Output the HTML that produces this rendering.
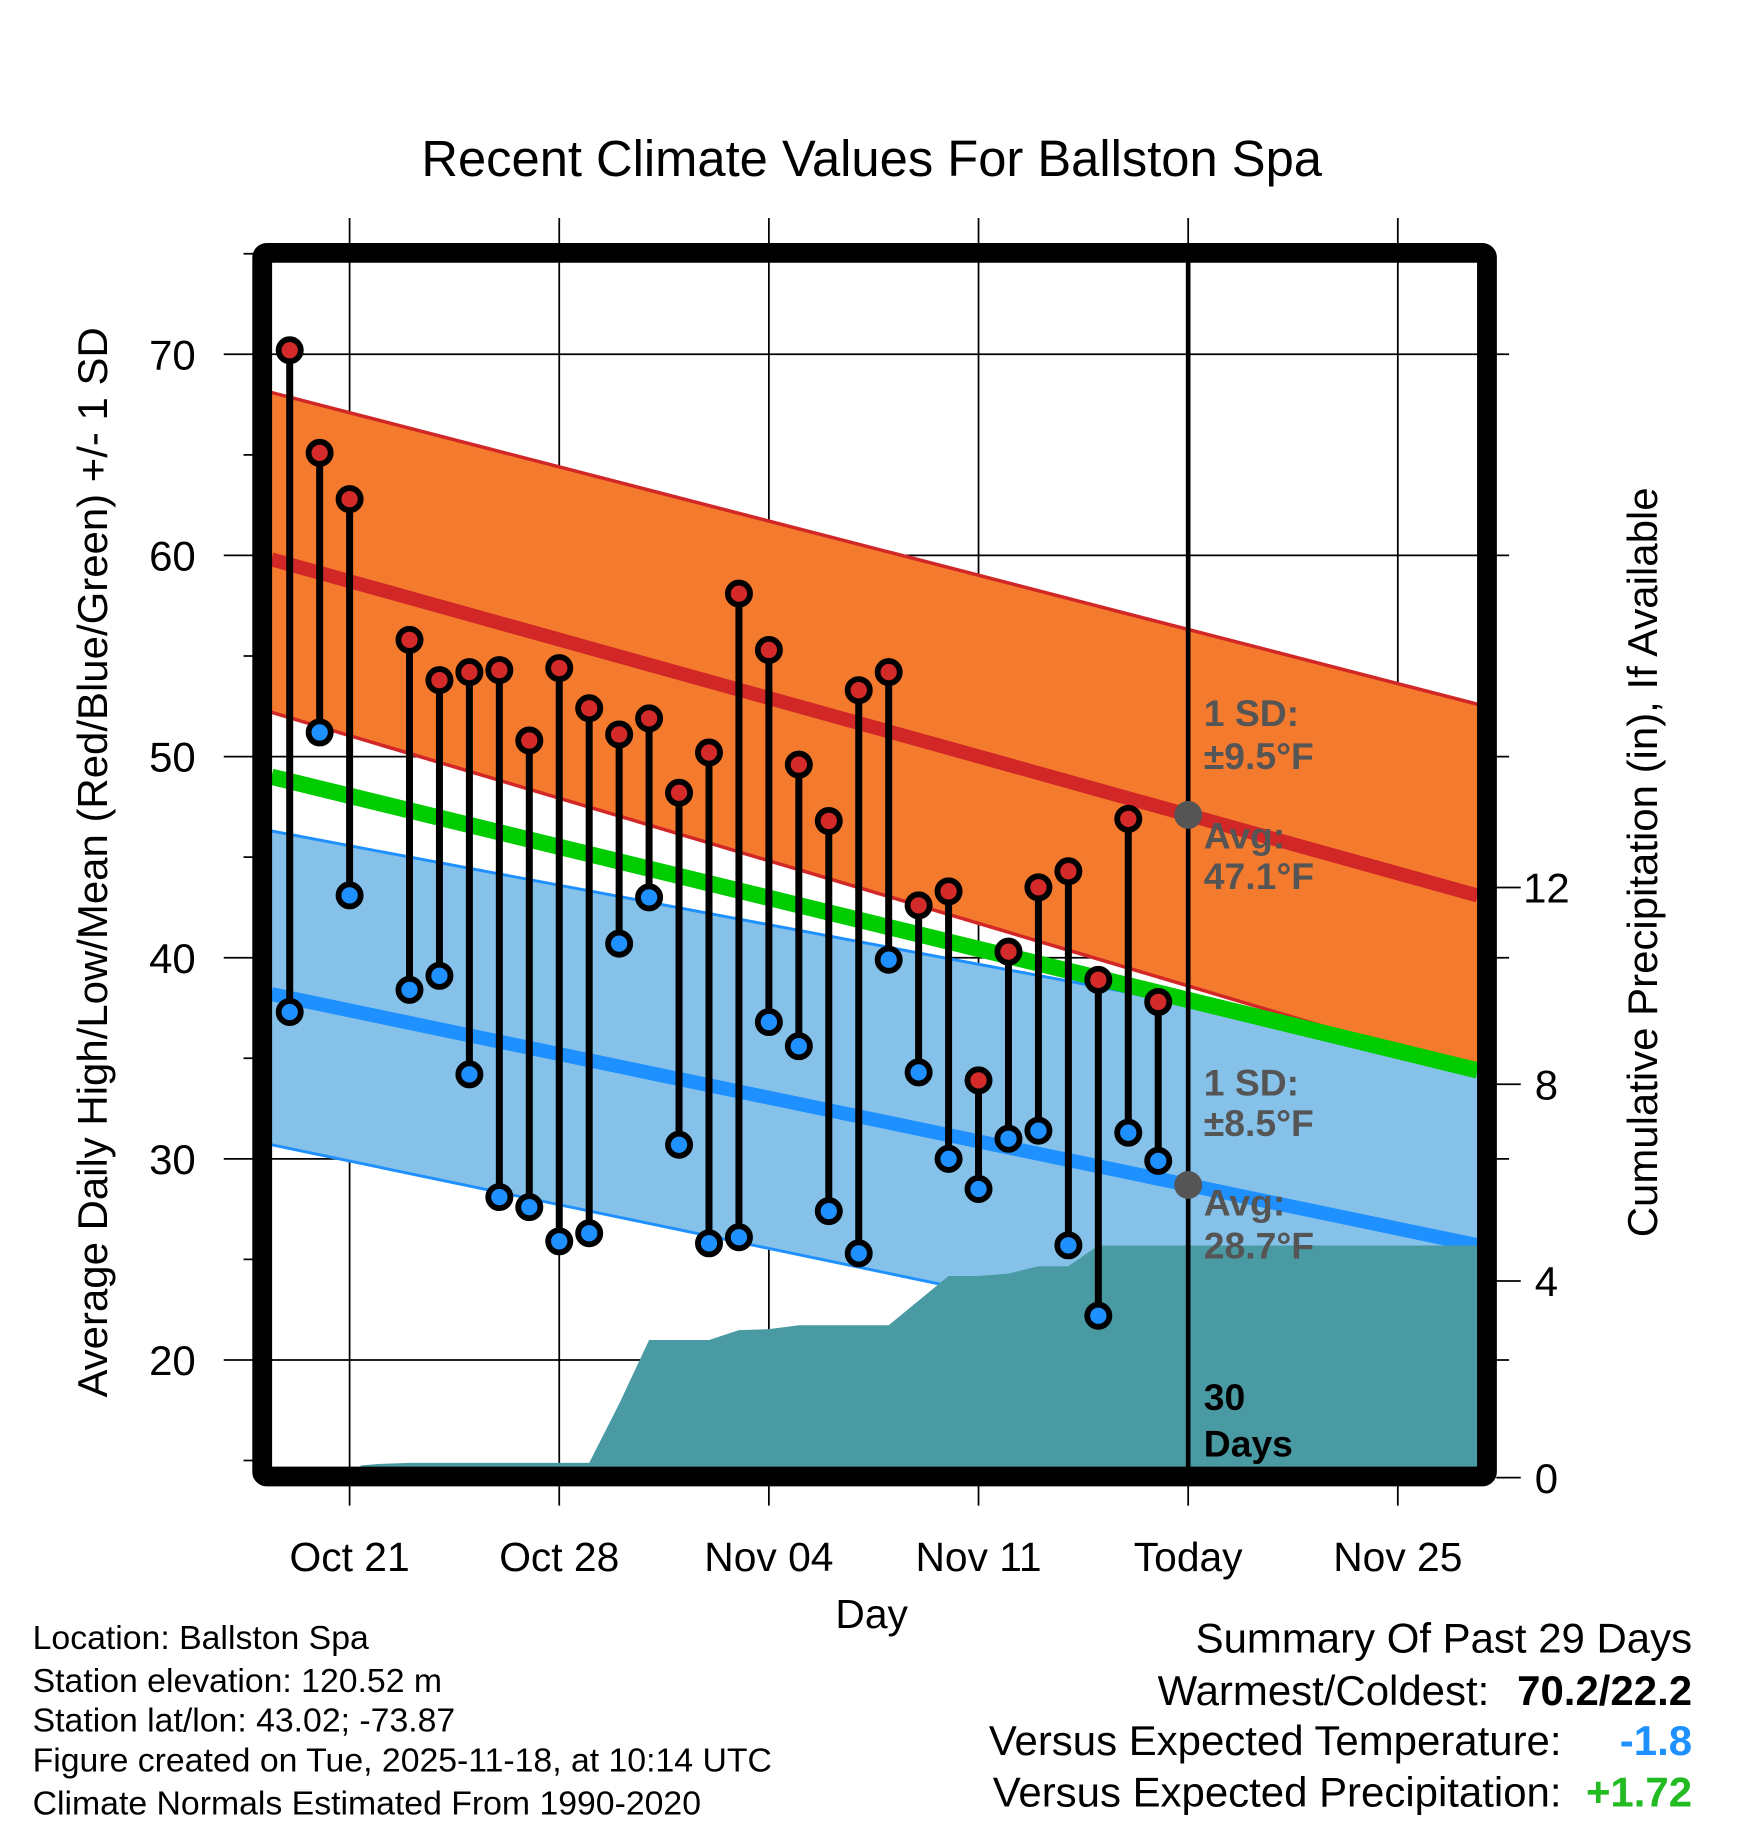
<!DOCTYPE html>
<html><head><meta charset="utf-8"><style>
html,body{margin:0;padding:0;background:#fff}
svg{display:block}
text{font-family:"Liberation Sans",Arial,sans-serif}
</style></head><body>
<svg id="chart" xmlns="http://www.w3.org/2000/svg" width="1748" height="1828" viewBox="0 0 1500 1568.6">
<defs><clipPath id="plotclip"><rect x="233" y="224" width="1035" height="1035"/></clipPath></defs>
<text x="748" y="151" font-size="43.5" text-anchor="middle">Recent Climate Values For Ballston Spa</text>
<g id="grid"></g>
<g id="plot" clip-path="url(#plotclip)"></g>
<g id="marks"></g>
<rect x="225" y="217" width="1051" height="1050" fill="none" stroke="#000" stroke-width="17" rx="4"/>
<g id="axes"></g>
<text transform="translate(92,740) rotate(-90)" font-size="36" text-anchor="middle">Average Daily High/Low/Mean (Red/Blue/Green) +/- 1 SD</text>
<text transform="translate(1422,740) rotate(-90)" font-size="36" text-anchor="middle">Cumulative Precipitation (in), If Available</text>
<text x="748" y="1397" font-size="35" text-anchor="middle">Day</text>
<g font-size="29">
<text x="28" y="1415">Location: Ballston Spa</text>
<text x="28" y="1452">Station elevation: 120.52 m</text>
<text x="28" y="1486">Station lat/lon: 43.02; -73.87</text>
<text x="28" y="1520">Figure created on Tue, 2025-11-18, at 10:14 UTC</text>
<text x="28" y="1557">Climate Normals Estimated From 1990-2020</text>
</g>
<g font-size="36">
<text x="1452" y="1418" text-anchor="end">Summary Of Past 29 Days</text>
<text x="1278" y="1463" text-anchor="end">Warmest/Coldest:</text>
<text x="1452" y="1463" text-anchor="end" font-weight="bold">70.2/22.2</text>
<text x="1340" y="1506" text-anchor="end">Versus Expected Temperature:</text>
<text x="1452" y="1506" text-anchor="end" font-weight="bold" fill="#1e90ff">-1.8</text>
<text x="1340" y="1550" text-anchor="end">Versus Expected Precipitation:</text>
<text x="1452" y="1550" text-anchor="end" font-weight="bold" fill="#22bb22">+1.72</text>
</g>
</svg>
<script>
const days=[-2,-1,0,2,3,4,5,6,7,8,9,10,11,12,13,14,15,16,17,18,19,20,21,22,23,24,25,26,27];
const highs=[70.2,65.1,62.8,55.8,53.8,54.2,54.3,50.8,54.4,52.4,51.1,51.9,48.2,50.2,58.1,55.3,49.6,46.8,53.3,54.2,42.6,43.3,33.9,40.3,43.5,44.3,38.9,46.9,37.8];
const lows=[37.3,51.2,43.1,38.4,39.1,34.2,28.1,27.6,25.9,26.3,40.7,43.0,30.7,25.8,26.1,36.8,35.6,27.4,25.3,39.9,34.3,30.0,28.5,31.0,31.4,25.7,22.2,31.3,29.9];
const precipDays=[-2,-1.4,-1,0,0.4,1,2,8,9,10,12,13,14,15,18,19,20,21,22,23,24,25,27];
const precip=[0,0,0.08,0.1,0.25,0.28,0.3,0.3,1.5,2.8,2.8,3.0,3.02,3.1,3.1,3.6,4.1,4.1,4.15,4.3,4.3,4.72,4.72];
const xTickDays=[0,7,14,21,28,35];
const xTickLabels=["Oct 21","Oct 28","Nov 04","Nov 11","Today","Nov 25"];
const yTicks=[20,30,40,50,60,70];
const y2Ticks=[0,4,8,12];
const todayDay=28, avgHighToday=47.1, avgLowToday=28.7;
const highSlope=0.415, lowSlope=0.31;
const highUpper=[68.1,52.6], highLower=[52.2,34.3];
const lowUpper=[46.3,35.0], lowLower=[30.7,18.2];

const X=d=>300+d*25.7;
const Y=t=>304+(70-t)*17.26;
const Y2=p=>1268-p*42.2;
const D=x=>(x-300)/25.7;
const NS="http://www.w3.org/2000/svg";
function mk(parent,tag,attrs){const e=document.createElementNS(NS,tag);for(const k in attrs)e.setAttribute(k,attrs[k]);parent.appendChild(e);return e;}
const grid=document.getElementById('grid'),plot=document.getElementById('plot'),marks=document.getElementById('marks'),axes=document.getElementById('axes');
const dL=D(233),dR=D(1268);
const hAvg=d=>avgHighToday-highSlope*(d-todayDay);
const lAvg=d=>avgLowToday-lowSlope*(d-todayDay);
function band(up,lo,fill,stroke,sw,name){
  const pts=`${X(dL)},${Y(up[0])} ${X(dR)},${Y(up[1])} ${X(dR)},${Y(lo[1])} ${X(dL)},${Y(lo[0])}`;
  const p=mk(plot,'polygon',{points:pts,fill:fill});
  
  
  [up,lo].forEach(e=>{const l=mk(plot,'line',{x1:X(dL),y1:Y(e[0]),x2:X(dR),y2:Y(e[1]),stroke:stroke,'stroke-width':sw});
    
    });
}
band(lowUpper,lowLower,'#85c1e8','#1e90ff',2.5,'low-sd-band');
band(highUpper,highLower,'#f47a2e','#d22727',3,'high-sd-band');
function meanLine(f,color,w,name){const l=mk(plot,'line',{x1:X(dL),y1:Y(f(dL)),x2:X(dR),y2:Y(f(dR)),stroke:color,'stroke-width':w});
  
  }
meanLine(d=>(hAvg(d)+lAvg(d))/2,'#00cc00',14,'mean-line');
meanLine(hAvg,'#d22727',12,'high-avg-line');
meanLine(lAvg,'#1e90ff',12,'low-avg-line');
let pp=`${X(dL)},1268 `;
precipDays.forEach((d,i)=>{pp+=`${X(d)},${Y2(precip[i])} `;});
pp+=`${X(dR)},${Y2(precip[precip.length-1])} ${X(dR)},1268`;
const pa=mk(plot,'polygon',{points:pp,fill:'#4a9aa3'});


xTickDays.forEach((d,i)=>{
  const l=mk(grid,'line',{x1:X(d),y1:187,x2:X(d),y2:1292,stroke:'#000','stroke-width':1.5});
  
  
  const t=mk(axes,'text',{x:X(d),y:1348,'font-size':35,'text-anchor':'middle'});t.textContent=xTickLabels[i];
  
  
});
yTicks.forEach(v=>{
  const l=mk(grid,'line',{x1:192,y1:Y(v),x2:1295,y2:Y(v),stroke:'#000','stroke-width':1.5});
  
  
  const t=mk(axes,'text',{x:168,y:Y(v)+13,'font-size':36,'text-anchor':'end'});t.textContent=v;
  
  
});
for(let v=15;v<=75;v+=5){if(v%10){const l=mk(grid,'line',{x1:209,y1:Y(v),x2:224,y2:Y(v),stroke:'#000','stroke-width':1.5});
  
  }}
y2Ticks.forEach(v=>{
  const l=mk(axes,'line',{x1:1284,y1:Y2(v),x2:1305,y2:Y2(v),stroke:'#000','stroke-width':1.5});
  
  
  const t=mk(axes,'text',{x:1327,y:Y2(v)+13,'font-size':36,'text-anchor':'middle'});t.textContent=v;
  
  
});
const tl=mk(marks,'line',{x1:X(todayDay),y1:224,x2:X(todayDay),y2:1260,stroke:'#000','stroke-width':4});


days.forEach((d,i)=>{
  const s=mk(marks,'line',{x1:X(d),y1:Y(highs[i]),x2:X(d),y2:Y(lows[i]),stroke:'#000','stroke-width':6});
  
  
});
days.forEach((d,i)=>{
  const h=mk(marks,'circle',{cx:X(d),cy:Y(highs[i]),r:9.5,fill:'#d42a2a',stroke:'#000','stroke-width':5});
  
  
  const l=mk(marks,'circle',{cx:X(d),cy:Y(lows[i]),r:9.5,fill:'#1e90ff',stroke:'#000','stroke-width':5});
  
  
});
const g1=mk(marks,'circle',{cx:X(todayDay),cy:Y(avgHighToday),r:12,fill:'#555'});


const g2=mk(marks,'circle',{cx:X(todayDay),cy:Y(avgLowToday),r:12,fill:'#555'});


const ann=[["1 SD:",623,'#555'],["±9.5°F",660,'#555'],["Avg:",728,'#555'],[avgHighToday+"°F",763,'#555'],
 ["1 SD:",940,'#555'],["±8.5°F",975,'#555'],["Avg:",1043,'#555'],[avgLowToday+"°F",1080,'#555'],["30",1210,'#000'],["Days",1250,'#000']];
ann.forEach(a=>{const t=mk(marks,'text',{x:1033,y:a[1],'font-size':32,'font-weight':'bold',fill:a[2]});t.textContent=a[0];
  
  });
</script>
</body></html>
